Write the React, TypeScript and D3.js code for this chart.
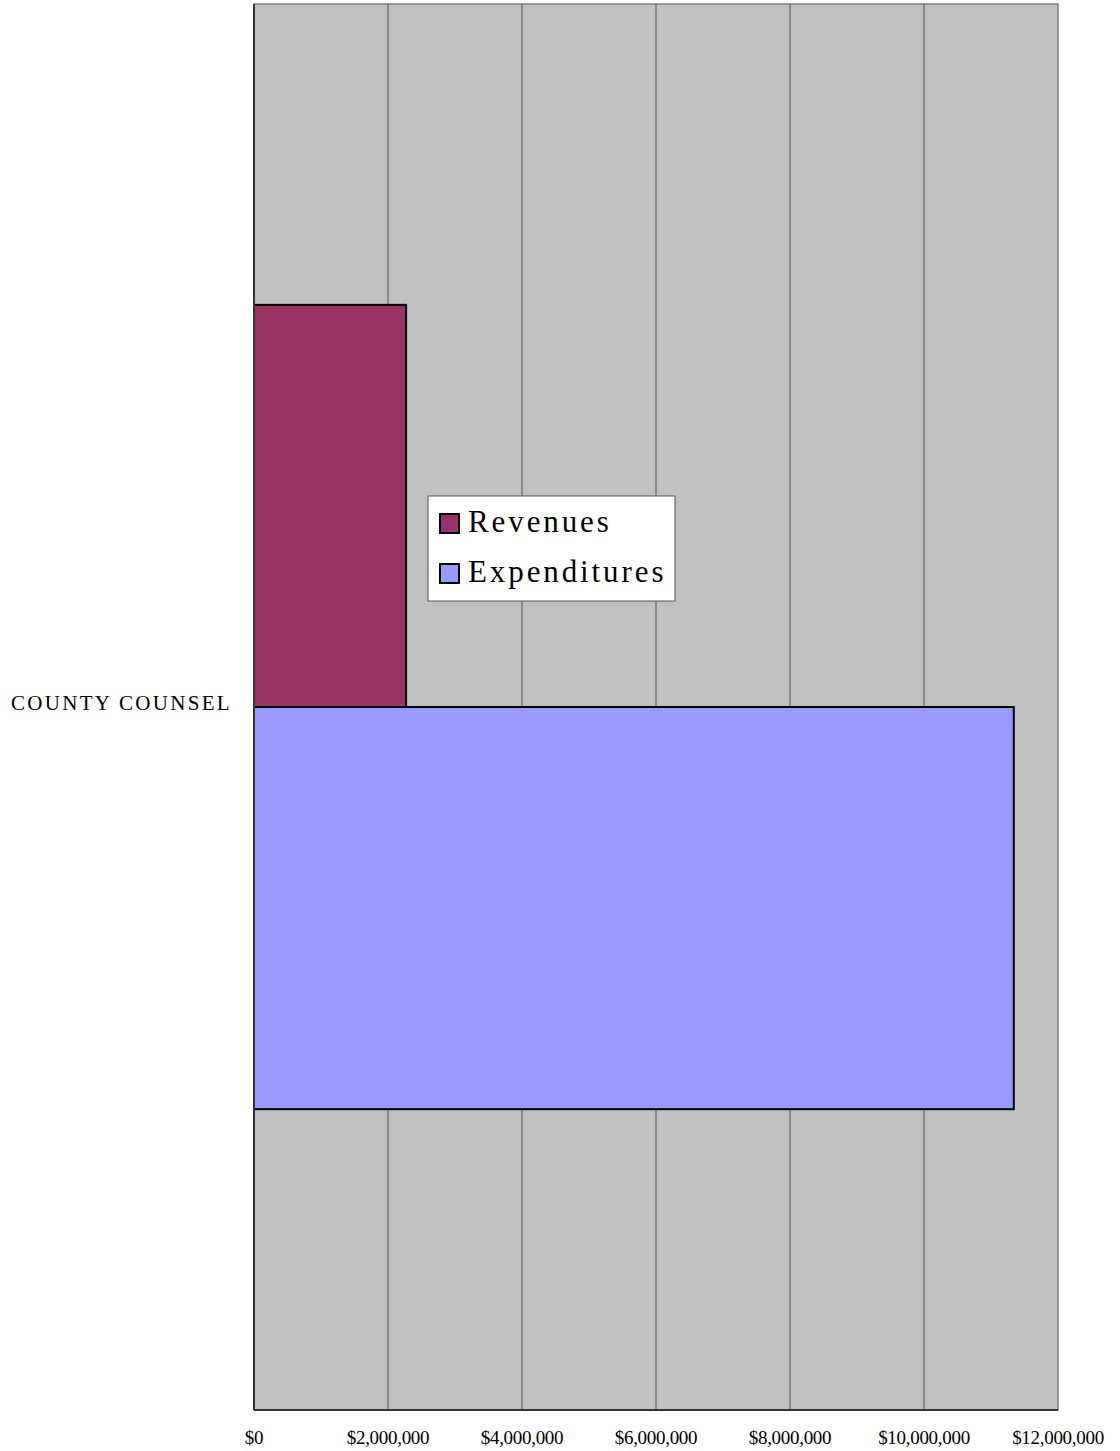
import React, { useEffect, useRef } from 'react';
import * as d3 from 'd3';

const categories = ['COUNTY COUNSEL'];
const seriesNames = ['Revenues', 'Expenditures'];
const seriesColors = ['#993366', '#9999ff'];
const revenues = [2270000];
const expenditures = [11340000];
const xTicks = [0, 2000000, 4000000, 6000000, 8000000, 10000000, 12000000];

const App: React.FC = () => {
  const svgRef = useRef<SVGSVGElement | null>(null);

  useEffect(() => {
    if (!svgRef.current) return;
    const svg = d3.select(svgRef.current);
    svg.selectAll('*').remove();

    const width = 1120;
    const height = 1451;
    const margin = { top: 4, right: 62, bottom: 41, left: 254 };
    const font = '"Liberation Serif", "DejaVu Serif", serif';

    const x = d3.scaleLinear()
      .domain([0, 12000000])
      .range([margin.left, width - margin.right]);

    const y = d3.scaleBand()
      .domain(categories)
      .range([margin.top, height - margin.bottom])
      .paddingInner(0)
      .paddingOuter(0.374);

    const ySub = d3.scaleBand()
      .domain(seriesNames)
      .range([0, y.bandwidth()]);

    // Plot area
    svg.append('rect')
      .attr('x', x(0))
      .attr('y', margin.top)
      .attr('width', x(12000000) - x(0))
      .attr('height', height - margin.bottom - margin.top)
      .attr('fill', '#c0c0c0')
      .attr('stroke', '#808080')
      .attr('stroke-width', 1.5);

    // Gridlines
    svg.append('g')
      .selectAll('line')
      .data(xTicks.slice(1, -1))
      .join('line')
      .attr('x1', d => x(d))
      .attr('x2', d => x(d))
      .attr('y1', margin.top)
      .attr('y2', height - margin.bottom)
      .attr('stroke', '#555')
      .attr('stroke-width', 1);

    // Bars
    const data = categories.map((c, i) => ({ c, vals: [revenues[i], expenditures[i]] }));
    const groups = svg.append('g')
      .selectAll('g')
      .data(data)
      .join('g')
      .attr('transform', d => `translate(0,${y(d.c)})`);

    groups.selectAll('rect')
      .data(d => d.vals.map((v, i) => ({ name: seriesNames[i], v, color: seriesColors[i] })))
      .join('rect')
      .attr('x', x(0))
      .attr('y', d => ySub(d.name)!)
      .attr('width', d => x(d.v) - x(0))
      .attr('height', ySub.bandwidth())
      .attr('fill', d => d.color)
      .attr('stroke', '#000')
      .attr('stroke-width', 2);

    // Axes lines
    svg.append('line')
      .attr('x1', x(0)).attr('x2', x(0))
      .attr('y1', margin.top).attr('y2', height - margin.bottom)
      .attr('stroke', '#333').attr('stroke-width', 2);
    svg.append('line')
      .attr('x1', x(0)).attr('x2', x(12000000))
      .attr('y1', height - margin.bottom).attr('y2', height - margin.bottom)
      .attr('stroke', '#333').attr('stroke-width', 2);

    // X tick labels
    const fmt = d3.format(',');
    svg.append('g')
      .selectAll('text')
      .data(xTicks)
      .join('text')
      .attr('x', d => x(d))
      .attr('y', 1444)
      .attr('text-anchor', 'middle')
      .attr('font-family', font)
      .attr('font-size', 19)
      .attr('letter-spacing', -0.3)
      .text(d => '$' + fmt(d));

    // Category labels
    svg.append('g')
      .selectAll('text')
      .data(categories)
      .join('text')
      .attr('x', x(0) - 22)
      .attr('y', d => y(d)! + y.bandwidth() / 2 - 4)
      .attr('dy', '0.35em')
      .attr('text-anchor', 'end')
      .attr('font-family', font)
      .attr('font-size', 21)
      .attr('letter-spacing', 2.3)
      .text(d => d);

    // Legend
    const legend = svg.append('g').attr('transform', 'translate(428,496)');
    legend.append('rect')
      .attr('width', 247).attr('height', 105)
      .attr('fill', '#fff').attr('stroke', '#555').attr('stroke-width', 1);
    seriesNames.forEach((name, i) => {
      legend.append('rect')
        .attr('x', 12).attr('y', 18 + i * 50)
        .attr('width', 19).attr('height', 19)
        .attr('fill', seriesColors[i]).attr('stroke', '#000').attr('stroke-width', 2);
      legend.append('text')
        .attr('x', 40).attr('y', 36 + i * 50)
        .attr('font-family', font)
        .attr('font-size', 31)
        .attr('letter-spacing', 2.9)
        .text(name);
    });
  }, []);

  return (
    <svg
      ref={svgRef}
      width={1120}
      height={1451}
      style={{ position: 'absolute', left: 0, top: 0, display: 'block' }}
    />
  );
};

export default App;
